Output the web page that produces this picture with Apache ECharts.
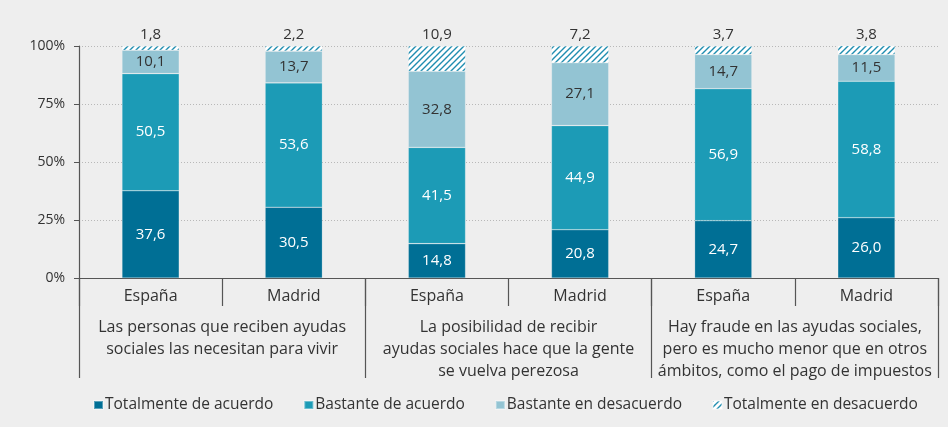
<!DOCTYPE html>
<html>
<head>
<meta charset="utf-8">
<script src="https://cdn.jsdelivr.net/npm/echarts@6/dist/echarts.min.js"></script>
<style>
  html, body { margin: 0; padding: 0; background: #eeeeee; }
  #chart { width: 948px; height: 427px; }
</style>
</head>
<body>
<div id="chart"></div>
<script>
// Places (inner level of the x axis) and statements (outer level)
const places = ['España', 'Madrid', 'España', 'Madrid', 'España', 'Madrid'];
const statements = [
  'Las personas que reciben ayudas\nsociales las necesitan para vivir',
  'La posibilidad de recibir\nayudas sociales hace que la gente\nse vuelva perezosa',
  'Hay fraude en las ayudas sociales,\npero es mucho menor que en otros\námbitos, como el pago de impuestos'
];
const yTicks = ['0%', '25%', '50%', '75%', '100%'];

// Share of answers (%)
const totalmenteAcuerdo = [37.6, 30.5, 14.8, 20.8, 24.7, 26.0];
const bastanteAcuerdo = [50.5, 53.6, 41.5, 44.9, 56.9, 58.8];
const bastanteDesacuerdo = [10.1, 13.7, 32.8, 27.1, 14.7, 11.5];
const totalmenteDesacuerdo = [1.8, 2.2, 10.9, 7.2, 3.7, 3.8];

const seriesNames = ['Totalmente de acuerdo', 'Bastante de acuerdo', 'Bastante en desacuerdo', 'Totalmente en desacuerdo'];

// Diagonal hatch used for "Totalmente en desacuerdo"
function hatch() {
  const s = 6;
  const c = document.createElement('canvas');
  c.width = s; c.height = s;
  const g = c.getContext('2d');
  g.fillStyle = '#ffffff';
  g.fillRect(0, 0, s, s);
  g.strokeStyle = '#1f8db0';
  g.lineWidth = 1.4;
  g.beginPath();
  g.moveTo(0, s); g.lineTo(s, 0);
  g.moveTo(-1, 1); g.lineTo(1, -1);
  g.moveTo(s - 1, s + 1); g.lineTo(s + 1, s - 1);
  g.stroke();
  return { image: c, repeat: 'repeat' };
}

const fmt = p => p.value.toFixed(1).replace('.', ',');
const font = '"Open Sans", sans-serif';
const textDark = '#333333';

function barSeries(name, data, color, labelColor, labelPos) {
  return {
    name: name,
    type: 'bar',
    stack: 'total',
    xAxisIndex: 0,
    barWidth: '40%',
    data: data,
    itemStyle: { color: color, borderColor: 'rgba(255,255,255,0.35)', borderWidth: 0.6 },
    label: {
      show: true,
      position: labelPos,
      distance: 4,
      formatter: fmt,
      color: labelColor,
      fontFamily: font,
      fontSize: 15
    }
  };
}

const chart = echarts.init(document.getElementById('chart'), null, { renderer: 'canvas' });
chart.setOption({
  backgroundColor: '#eeeeee',
  animation: false,
  grid: { left: 79, right: 10, top: 46, bottom: 149 },
  legend: {
    data: seriesNames,
    bottom: 9,
    left: 88,
    itemWidth: 9,
    itemHeight: 8,
    itemGap: 30,
    icon: 'rect',
    textStyle: { fontFamily: font, fontSize: 15.5, color: textDark, padding: [0, 0, 0, -3] }
  },
  xAxis: [
    {
      type: 'category',
      data: places,
      axisLine: { lineStyle: { color: '#555555', width: 1.2 } },
      axisTick: { show: true, length: 28, interval: 0, lineStyle: { color: '#555555', width: 1.2 } },
      axisLabel: { interval: 0, margin: 10, color: textDark, fontFamily: font, fontSize: 16 }
    },
    {
      type: 'category',
      position: 'bottom',
      data: statements,
      axisLine: { show: false },
      axisTick: { show: true, length: 100, interval: 0, lineStyle: { color: '#555555', width: 1.2 } },
      axisLabel: { interval: 0, margin: 38, color: textDark, fontFamily: font, fontSize: 16, lineHeight: 22 }
    }
  ],
  yAxis: {
    type: 'value',
    min: 0,
    max: 100,
    interval: 25,
    axisLine: { show: true, lineStyle: { color: '#555555', width: 1.2 } },
    axisTick: { show: true, length: 5, lineStyle: { color: '#555555' } },
    axisLabel: {
      margin: 14,
      color: textDark,
      fontFamily: font,
      fontSize: 14,
      formatter: v => yTicks[v / 25]
    },
    splitLine: { show: true, lineStyle: { color: '#b8b8b8', type: [1, 2] } }
  },
  series: [
    barSeries(seriesNames[0], totalmenteAcuerdo, '#006f95', '#ffffff', 'inside'),
    barSeries(seriesNames[1], bastanteAcuerdo, '#1c9bb6', '#ffffff', 'inside'),
    barSeries(seriesNames[2], bastanteDesacuerdo, '#93c4d3', textDark, 'inside'),
    barSeries(seriesNames[3], totalmenteDesacuerdo, hatch(), textDark, 'top')
  ]
});
</script>
</body>
</html>
